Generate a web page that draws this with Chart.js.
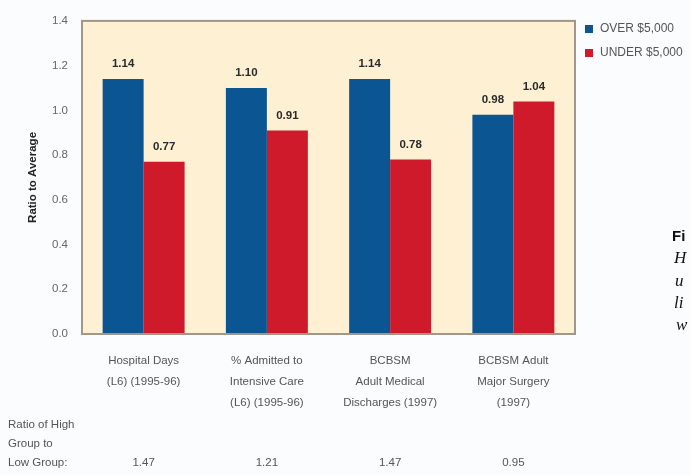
<!DOCTYPE html>
<html>
<head>
<meta charset="utf-8">
<script src="https://cdn.jsdelivr.net/npm/chart.js@4.4.1/dist/chart.umd.min.js"></script>
<style>
  html, body { margin: 0; padding: 0; background: #fafcfd; }
  #wrap { position: relative; width: 690px; height: 475px; }
</style>
</head>
<body>
<div id="wrap"><canvas id="c" width="690" height="475"></canvas></div>
<script>
// Categories (multi-line tick labels)
const categories = [
  ["Hospital Days", "(L6) (1995-96)"],
  ["% Admitted to", "Intensive Care", "(L6) (1995-96)"],
  ["BCBSM", "Adult Medical", "Discharges (1997)"],
  ["BCBSM Adult", "Major Surgery", "(1997)"]
];
const seriesNames = ["OVER $5,000", "UNDER $5,000"];
const overValues = [1.14, 1.10, 1.14, 0.98];
const underValues = [0.77, 0.91, 0.78, 1.04];
const highLowRatios = ["1.47", "1.21", "1.47", "0.95"];
const ratioCaption = ["Ratio of High", "Group to", "Low Group:"];
const yTicks = [0, 0.2, 0.4, 0.6, 0.8, 1.0, 1.2, 1.4];
const sideText = ["Fi", "H", "u", "li", "w"];

const BLUE = "#0b5592";
const RED = "#cf1a2b";
const SANS = "'Liberation Sans', Arial, sans-serif";

// Cream plot background and frame
const plotFrame = {
  id: "plotFrame",
  beforeDatasetsDraw(chart) {
    const { ctx, chartArea: a } = chart;
    ctx.save();
    ctx.fillStyle = "#fdf0d3";
    ctx.fillRect(a.left, a.top, a.right - a.left, a.bottom - a.top);
    ctx.restore();
  },
  afterDatasetsDraw(chart) {
    const { ctx, chartArea: a } = chart;
    ctx.save();
    ctx.strokeStyle = "#a0968a";
    ctx.lineWidth = 2;
    ctx.strokeRect(a.left, a.top, a.right - a.left, a.bottom - a.top);
    ctx.restore();
  }
};

// Value labels above bars
const valueLabels = {
  id: "valueLabels",
  afterDatasetsDraw(chart) {
    const { ctx } = chart;
    ctx.save();
    ctx.font = "bold 11.5px " + SANS;
    ctx.fillStyle = "#2a2a2a";
    ctx.textAlign = "center";
    ctx.textBaseline = "middle";
    chart.data.datasets.forEach((ds, i) => {
      chart.getDatasetMeta(i).data.forEach((bar, j) => {
        ctx.fillText(ds.data[j].toFixed(2), bar.x, bar.y - 15);
      });
    });
    ctx.restore();
  }
};

// Legend, ratio row and side text
const extras = {
  id: "extras",
  afterDraw(chart) {
    const { ctx, scales } = chart;
    ctx.save();
    // legend
    ctx.font = "12px " + SANS;
    ctx.textBaseline = "middle";
    ctx.textAlign = "left";
    chart.data.datasets.forEach((ds, i) => {
      const y = 29 + i * 24;
      ctx.fillStyle = ds.backgroundColor;
      ctx.fillRect(585, y - 4, 8, 8);
      ctx.fillStyle = "#555";
      ctx.fillText(ds.label, 600, y);
    });
    // ratio caption and values
    ctx.fillStyle = "#555";
    ctx.font = "11.5px " + SANS;
    ratioCaption.forEach((s, i) => ctx.fillText(s, 8, 425 + i * 19));
    ctx.textAlign = "center";
    highLowRatios.forEach((s, i) => {
      ctx.fillText(s, scales.x.getPixelForValue(i), 463);
    });
    // neighbouring text at the right edge
    ctx.textAlign = "left";
    ctx.fillStyle = "#111";
    ctx.font = "bold 15px " + SANS;
    ctx.fillText(sideText[0], 672, 237);
    ctx.font = "italic 17px 'Liberation Serif', 'DejaVu Serif', serif";
    ctx.fillText(sideText[1], 674, 259);
    ctx.fillText(sideText[2], 675, 282);
    ctx.fillText(sideText[3], 674, 304);
    ctx.fillText(sideText[4], 676, 326);
    ctx.restore();
  }
};

new Chart(document.getElementById("c"), {
  type: "bar",
  data: {
    labels: categories,
    datasets: [
      { label: seriesNames[0], data: overValues, backgroundColor: BLUE },
      { label: seriesNames[1], data: underValues, backgroundColor: RED }
    ]
  },
  options: {
    responsive: false,
    animation: false,
    layout: { padding: { left: 0, right: 115, top: 15, bottom: 0 } },
    plugins: {
      legend: { display: false },
      tooltip: { enabled: false }
    },
    datasets: { bar: { categoryPercentage: 0.665, barPercentage: 1.0 } },
    scales: {
      x: {
        grid: { display: false, drawTicks: false },
        border: { display: false },
        ticks: {
          color: "#555",
          font: { family: SANS, size: 11.5, lineHeight: 1.85 },
          padding: 16,
          maxRotation: 0,
          autoSkip: false
        },
        afterFit(s) { s.height = 141; }
      },
      y: {
        min: 0, max: 1.4,
        afterBuildTicks(s) { s.ticks = yTicks.map(v => ({ value: v })); },
        grid: { display: false, drawTicks: false },
        border: { display: false },
        ticks: {
          color: "#666",
          font: { family: SANS, size: 11.5 },
          padding: 14,
          callback: v => v.toFixed(1)
        },
        title: {
          display: true,
          text: "Ratio to Average",
          color: "#222",
          font: { family: SANS, size: 11.5, weight: "bold" },
          padding: { top: 26, bottom: 0 }
        },
        afterFit(s) { s.width = 82; }
      }
    }
  },
  plugins: [plotFrame, valueLabels, extras]
});
</script>
</body>
</html>
